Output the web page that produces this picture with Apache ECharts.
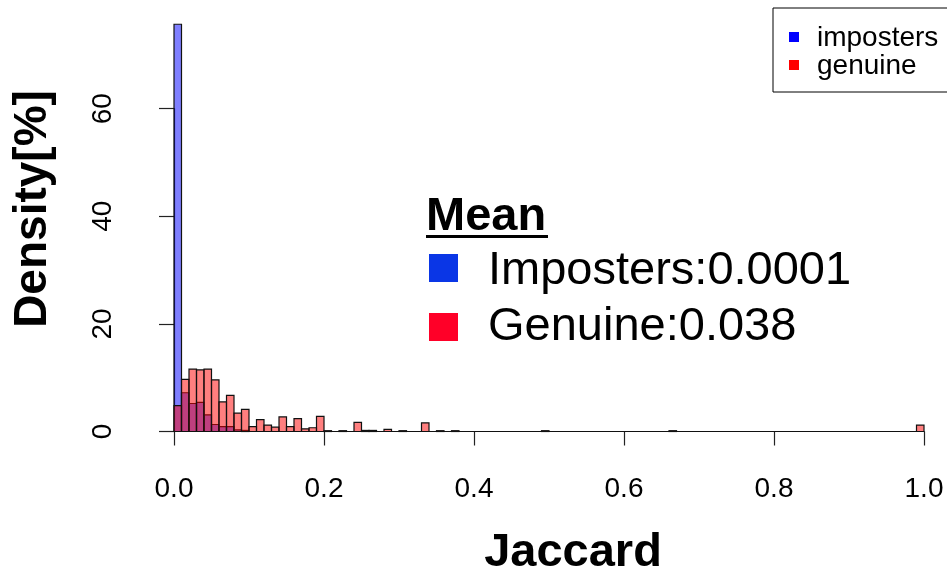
<!DOCTYPE html>
<html>
<head>
<meta charset="utf-8">
<script src="https://cdn.jsdelivr.net/npm/echarts@6/dist/echarts.min.js"></script>
<style>
html,body{margin:0;padding:0;background:#fff;}
#chart{width:947px;height:577px;}
</style>
</head>
<body>
<div id="chart"></div>
<script>
// Histogram bins: width 0.01 from 0.0 to 1.0 (100 bins), density in percent
var binWidth = 0.01;
var xTicks = [0, 0.2, 0.4, 0.6, 0.8, 1.0];
var yTicks = [0, 20, 40, 60];

var imposters = [
  75.7, 7.2, 5.2, 5.4, 3.1, 1.3, 0.9, 0.9, 0.3, 0.2,
  0, 0, 0, 0, 0, 0, 0, 0, 0, 0,
  0, 0, 0, 0, 0, 0, 0, 0, 0, 0,
  0, 0, 0, 0, 0, 0, 0, 0, 0, 0,
  0, 0, 0, 0, 0, 0, 0, 0, 0, 0,
  0, 0, 0, 0, 0, 0, 0, 0, 0, 0,
  0, 0, 0, 0, 0, 0, 0, 0, 0, 0,
  0, 0, 0, 0, 0, 0, 0, 0, 0, 0,
  0, 0, 0, 0, 0, 0, 0, 0, 0, 0,
  0, 0, 0, 0, 0, 0, 0, 0, 0, 0
];

var genuine = [
  4.8, 9.7, 11.6, 11.45, 11.6, 9.6, 5.5, 6.7, 3.4, 4.1,
  0.9, 2.2, 1.2, 0.8, 2.7, 0.9, 2.4, 0.5, 0.7, 2.8,
  0.15, 0, 0.15, 0, 1.7, 0.2, 0.2, 0, 0.4, 0,
  0.15, 0, 0, 1.6, 0, 0.15, 0, 0.15, 0, 0,
  0, 0, 0, 0, 0, 0, 0, 0, 0, 0.15,
  0, 0, 0, 0, 0, 0, 0, 0, 0, 0,
  0, 0, 0, 0, 0, 0, 0.15, 0, 0, 0,
  0, 0, 0, 0, 0, 0, 0, 0, 0, 0,
  0, 0, 0, 0, 0, 0, 0, 0, 0, 0,
  0, 0, 0, 0, 0, 0, 0, 0, 0, 1.2
];

var legendNames = ['imposters', 'genuine'];
var meanTitle = 'Mean';
var meanLabels = ['Imposters:0.0001', 'Genuine:0.038'];

function toBins(vals) {
  return vals.map(function (v, i) {
    return [i * binWidth, (i + 1) * binWidth, v];
  });
}

function makeRender(fill) {
  return function (params, api) {
    var p0 = api.coord([api.value(0), 0]);
    var p1 = api.coord([api.value(1), api.value(2)]);
    return {
      type: 'rect',
      shape: { x: p0[0], y: p1[1], width: p1[0] - p0[0], height: p0[1] - p1[1] },
      style: { fill: fill, stroke: '#111', lineWidth: 1.2 }
    };
  };
}

var FONT = '"Liberation Sans", Arial, Helvetica, sans-serif';
var chart = echarts.init(document.getElementById('chart'), null, { renderer: 'canvas' });

chart.setOption({
  backgroundColor: '#fff',
  animation: false,
  grid: [
    { left: 174, width: 750, top: 1.1, height: 430.4 },
    { left: 174, width: 750, top: 108.7, height: 322.8 }
  ],
  xAxis: [
    {
      type: 'value', gridIndex: 0, min: 0, max: 1, interval: 0.2,
      offset: 17,
      axisLine: { show: true, lineStyle: { color: '#222', width: 1.2 } },
      axisTick: { show: true, length: 14, lineStyle: { color: '#222', width: 1.2 } },
      splitLine: { show: false },
      axisLabel: {
        margin: 27, fontSize: 28, color: '#000', fontFamily: FONT,
        formatter: function (v) { return v.toFixed(1); }
      }
    },
    { type: 'value', gridIndex: 1, min: 0, max: 1, show: false }
  ],
  yAxis: [
    { type: 'value', gridIndex: 0, min: 0, max: 80, show: false },
    {
      type: 'value', gridIndex: 1, min: 0, max: 60, interval: 20,
      offset: 29,
      axisLine: { show: true, lineStyle: { color: '#222', width: 1.2 } },
      axisTick: { show: true, length: 15, lineStyle: { color: '#222', width: 1.2 } },
      splitLine: { show: false },
      axisLabel: { rotate: 90, margin: 28, fontSize: 28, color: '#000', fontFamily: FONT }
    }
  ],
  series: [
    {
      name: legendNames[0], type: 'custom', xAxisIndex: 0, yAxisIndex: 0,
      renderItem: makeRender('rgba(0,0,255,0.5)'),
      encode: { x: [0, 1], y: 2 },
      data: toBins(imposters), clip: false
    },
    {
      name: legendNames[1], type: 'custom', xAxisIndex: 0, yAxisIndex: 0,
      renderItem: makeRender('rgba(255,0,0,0.5)'),
      encode: { x: [0, 1], y: 2 },
      data: toBins(genuine), clip: false
    }
  ],
  graphic: [
    // axis titles
    { type: 'text', x: 33, y: 209, rotation: Math.PI / 2,
      style: { text: 'Density[%]', x: 0, y: 0, font: 'bold 46px ' + FONT, fill: '#000', textAlign: 'center', textVerticalAlign: 'middle' } },
    { type: 'text', x: 573, y: 553,
      style: { text: 'Jaccard', x: 0, y: 0, font: 'bold 47px ' + FONT, fill: '#000', textAlign: 'center', textVerticalAlign: 'middle' } },
    // top-right legend box
    { type: 'rect', shape: { x: 773, y: 8, width: 190, height: 84 }, style: { fill: '#fff', stroke: '#000', lineWidth: 1 } },
    { type: 'rect', shape: { x: 789, y: 32, width: 10, height: 10 }, style: { fill: '#0000ff' } },
    { type: 'rect', shape: { x: 789, y: 60, width: 10, height: 10 }, style: { fill: '#ff0000' } },
    { type: 'text', style: { text: legendNames[0], x: 817, y: 38, font: '28px ' + FONT, fill: '#000', textAlign: 'left', textVerticalAlign: 'middle' } },
    { type: 'text', style: { text: legendNames[1], x: 817, y: 66, font: '28px ' + FONT, fill: '#000', textAlign: 'left', textVerticalAlign: 'middle' } },
    // Mean annotation
    { type: 'text', style: { text: meanTitle, x: 426, y: 217, font: 'bold 47px ' + FONT, fill: '#000', textAlign: 'left', textVerticalAlign: 'middle' } },
    { type: 'rect', shape: { x: 426, y: 235, width: 122, height: 3 }, style: { fill: '#000' } },
    { type: 'rect', shape: { x: 429, y: 254, width: 29, height: 28 }, style: { fill: '#0a36e6' } },
    { type: 'rect', shape: { x: 429, y: 313, width: 29, height: 28 }, style: { fill: '#ff0028' } },
    { type: 'text', style: { text: meanLabels[0], x: 488, y: 271, font: '47px ' + FONT, fill: '#000', textAlign: 'left', textVerticalAlign: 'middle' } },
    { type: 'text', style: { text: meanLabels[1], x: 488, y: 327, font: '47px ' + FONT, fill: '#000', textAlign: 'left', textVerticalAlign: 'middle' } }
  ]
});
</script>
</body>
</html>
